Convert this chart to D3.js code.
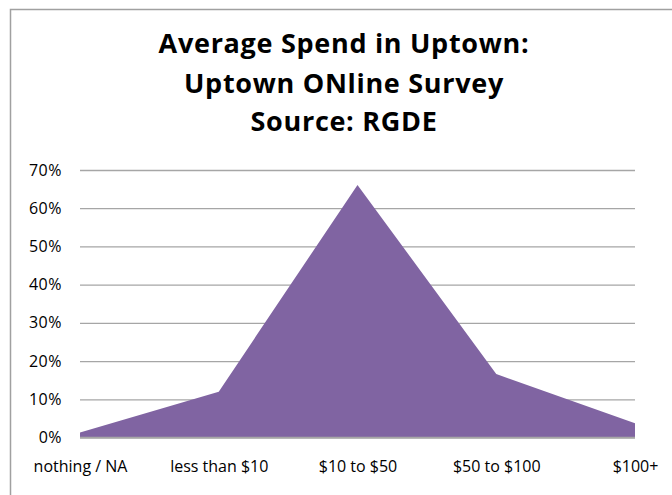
<!DOCTYPE html>
<html>
<head>
<meta charset="utf-8">
<script src="https://cdn.jsdelivr.net/npm/d3@7"></script>
<style>
  html, body { margin: 0; padding: 0; background: #fff; }
  svg { display: block; }
  text { font-family: "Open Sans", Lato, sans-serif; fill: #000; }
</style>
</head>
<body>
<svg id="chart" width="672" height="495"></svg>
<script>
// Spend categories and share of respondents
const categories = ["nothing / NA", "less than $10", "$10 to $50", "$50 to $100", "$100+"];
const shares = [0.013, 0.12, 0.661, 0.166, 0.037];
const yTicks = [0, 0.1, 0.2, 0.3, 0.4, 0.5, 0.6, 0.7];
const titleLines = ["Average Spend in Uptown:", "Uptown ONline Survey", "Source: RGDE"];

const svg = d3.select("#chart");
const W = 672, H = 495;
const plot = { left: 80, right: 635, top: 170, bottom: 437.5 };

// Chart frame
svg.append("rect")
  .attr("x", 10.5).attr("y", 9.5)
  .attr("width", W).attr("height", H)
  .attr("fill", "#fff")
  .attr("stroke", "#a0a0a0").attr("stroke-width", 1.5);

// Title
const title = svg.append("g");
const titleBaselines = [53, 93, 131];
titleLines.forEach((t, i) => {
  title.append("text")
    .attr("x", 344).attr("y", titleBaselines[i])
    .attr("text-anchor", "middle")
    .attr("font-weight", "bold")
    .attr("font-size", 27)
    .attr("letter-spacing", 0.7)
    .text(t);
});

const x = d3.scalePoint().domain(categories).range([plot.left, plot.right]).padding(0);
const y = d3.scaleLinear().domain([0, 0.7]).range([plot.bottom, plot.top]);

// Horizontal gridlines
const yAxis = d3.axisLeft(y)
  .tickValues(yTicks)
  .tickFormat(d3.format(".0%"))
  .tickSize(-(plot.right - plot.left))
  .tickPadding(18);

const gy = svg.append("g")
  .attr("transform", `translate(${plot.left},0)`)
  .call(yAxis);
gy.select(".domain").remove();
gy.selectAll(".tick line").attr("stroke", "#a6a6a6").attr("stroke-width", 1.3);
gy.selectAll(".tick text")
  .attr("font-size", 16)
  .attr("letter-spacing", 0.5)
  .attr("font-family", "'Open Sans', sans-serif");

// Area
const area = d3.area()
  .x((d, i) => x(categories[i]))
  .y0(y(0))
  .y1(d => y(d));

svg.append("path")
  .datum(shares)
  .attr("d", area)
  .attr("fill", "#8064a2");

// Baseline
svg.append("line")
  .attr("x1", plot.left).attr("x2", plot.right)
  .attr("y1", y(0)).attr("y2", y(0))
  .attr("stroke", "#a6a6a6").attr("stroke-width", 1.3);

// Category axis labels
const xAxis = d3.axisBottom(x).tickSize(0).tickPadding(23);
const gx = svg.append("g")
  .attr("transform", `translate(0,${plot.bottom})`)
  .call(xAxis);
gx.select(".domain").remove();
gx.selectAll(".tick text")
  .attr("font-size", 16)
  .attr("font-family", "'Open Sans', sans-serif");
</script>
</body>
</html>
